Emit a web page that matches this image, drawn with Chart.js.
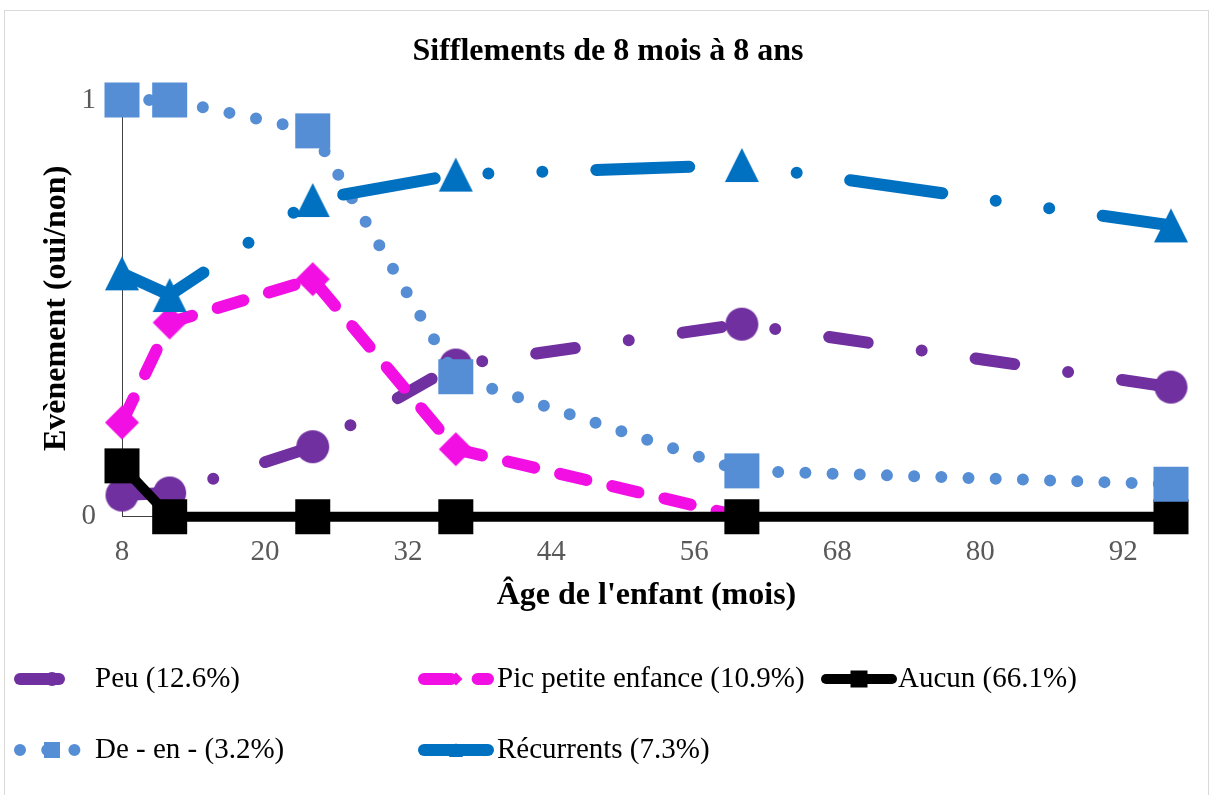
<!DOCTYPE html>
<html lang="fr">
<head>
<meta charset="utf-8">
<title>Sifflements de 8 mois à 8 ans</title>
<script src="https://cdn.jsdelivr.net/npm/chart.js@4.4.1/dist/chart.umd.min.js"></script>
<style>
  html, body { margin: 0; padding: 0; background: #fff; }
  canvas { display: block; }
</style>
</head>
<body>
<canvas id="chart" width="1211" height="795"></canvas>
<script>
// données (âge en mois, proportion oui/non)
const ages = [8, 12, 24, 36, 60, 96];
const peu = [0.052, 0.057, 0.168, 0.364, 0.462, 0.311];
const picPetiteEnfance = [0.226, 0.466, 0.570, 0.162, 0, null];
const aucun = [0.122, 0, 0, 0, 0, 0];
const deEnMoins = [1, 1, 0.926, 0.336, 0.110, 0.078];
const recurrents = [0.584, 0.532, 0.760, 0.821, 0.844, 0.699];

const seriesNames = ["Peu (12.6%)", "Pic petite enfance (10.9%)", "Aucun (66.1%)", "De - en - (3.2%)", "Récurrents (7.3%)"];
const xTicks = [8, 20, 32, 44, 56, 68, 80, 92];
const yTicks = [0, 1];

const chartTitle = "Sifflements de 8 mois à 8 ans";
const xTitle = "Âge de l'enfant (mois)";
const yTitle = "Evènement (oui/non)";

const SERIF = '"Liberation Serif", "Times New Roman", serif';

function toPoints(values) {
    return values.map((v, i) => ({ x: ages[i], y: v }));
}

// dessine un marqueur (aussi utilisé pour la légende)
function drawMarker(ctx, style, x, y, size, color) {
    const h = size / 2;
    ctx.fillStyle = color;
    ctx.beginPath();
    if (style === "circle") {
        ctx.arc(x, y, h, 0, Math.PI * 2);
    } else if (style === "rect") {
        ctx.rect(x - h, y - h, size, size);
    } else if (style === "rectRot") {
        ctx.moveTo(x, y - h); ctx.lineTo(x + h, y); ctx.lineTo(x, y + h); ctx.lineTo(x - h, y);
        ctx.closePath();
    } else if (style === "triangle") {
        ctx.moveTo(x, y - h); ctx.lineTo(x + h, y + h); ctx.lineTo(x - h, y + h);
        ctx.closePath();
    }
    ctx.fill();
}

function makeMarker(style, size, color) {
    const c = document.createElement("canvas");
    c.width = Math.ceil(size) + 2;
    c.height = Math.ceil(size) + 2;
    drawMarker(c.getContext("2d"), style, c.width / 2, c.height / 2, size, color);
    return c;
}

const styles = [
    { color: "#7030A0", width: 12, dash: [39, 54.5, 0, 54.5], marker: "circle", size: 33, legendSize: 14 },
    { color: "#F20FE3", width: 12, dash: [27, 26.6], marker: "rectRot", size: 34, legendSize: 13 },
    { color: "#000000", width: 10, dash: [], marker: "rect", size: 35, legendSize: 17 },
    { color: "#558ED5", width: 12, dash: [0, 27.2], marker: "rect", size: 35, legendSize: 16 },
    { color: "#0070C0", width: 12, dash: [93, 54, 0, 54, 0, 54], marker: "triangle", size: 34, legendSize: 14 }
];
const seriesValues = [peu, picPetiteEnfance, aucun, deEnMoins, recurrents];

const datasets = seriesValues.map((vals, i) => {
    const s = styles[i];
    return {
        label: seriesNames[i],
        data: toPoints(vals),
        borderColor: s.color,
        backgroundColor: s.color,
        borderWidth: s.width,
        borderDash: s.dash,
        borderCapStyle: "round",
        borderJoinStyle: "round",
        pointStyle: makeMarker(s.marker, s.size, s.color),
        pointRadius: s.size / 2,
        pointBorderWidth: 0,
        tension: 0,
        clip: false,
        order: seriesValues.length - i // la dernière série au-dessus, comme dans Excel
    };
});

// titre, cadre et légende
const decor = {
    id: "decor",
    beforeDraw(chart) {
        const ctx = chart.ctx;
        ctx.save();
        ctx.fillStyle = "#fff";
        ctx.fillRect(0, 0, chart.width, chart.height);
        ctx.strokeStyle = "#d9d9d9";
        ctx.lineWidth = 1;
        ctx.strokeRect(4.5, 10.5, 1204, 800);
        ctx.restore();
    },
    afterDraw(chart) {
        const ctx = chart.ctx;
        ctx.save();
        ctx.fillStyle = "#000";
        ctx.font = "bold 32px " + SERIF;
        ctx.textAlign = "center";
        ctx.textBaseline = "middle";
        ctx.fillText(chartTitle, 608, 52);

        const slots = [[14, 95, 679], [418, 497, 679], [821, 898, 679], [14, 95, 750], [418, 497, 750]];
        const sampleLen = 76;
        seriesNames.forEach((name, i) => {
            const s = styles[i];
            const [x0, tx, y] = slots[i];
            ctx.save();
            ctx.beginPath();
            ctx.rect(x0 - 1, y - 20, sampleLen + 2, 40);
            ctx.clip();
            ctx.strokeStyle = s.color;
            ctx.lineWidth = s.width;
            ctx.lineCap = "round";
            ctx.setLineDash(s.dash);
            ctx.beginPath();
            ctx.moveTo(x0 + s.width / 2, y);
            ctx.lineTo(x0 + sampleLen - s.width / 2, y);
            ctx.stroke();
            ctx.setLineDash([]);
            drawMarker(ctx, s.marker, x0 + sampleLen / 2, y, s.legendSize, s.color);
            ctx.restore();

            ctx.fillStyle = "#000";
            ctx.font = "29px " + SERIF;
            ctx.textAlign = "left";
            ctx.textBaseline = "middle";
            ctx.fillText(name, tx, y);
        });
        ctx.restore();
    }
};

new Chart(document.getElementById("chart"), {
    type: "line",
    data: { datasets: datasets },
    options: {
        responsive: false,
        animation: false,
        devicePixelRatio: 1,
        layout: { padding: { top: 100, left: 4, right: 40, bottom: 170 } },
        plugins: {
            legend: { display: false },
            title: { display: false },
            tooltip: { enabled: false }
        },
        scales: {
            x: {
                type: "linear",
                min: 8,
                max: 96,
                afterBuildTicks: s => { s.ticks = xTicks.map(v => ({ value: v })); },
                afterFit: s => { s.height = 108.3; },
                grid: { display: false, drawTicks: false },
                border: { display: true, color: "#404040", width: 1 },
                ticks: { color: "#595959", font: { family: SERIF, size: 29 }, padding: 18, maxRotation: 0, autoSkip: false },
                title: { display: true, text: xTitle, color: "#000", font: { family: SERIF, size: 32, weight: "bold" }, padding: { top: 0, bottom: 10 } }
            },
            y: {
                min: 0,
                max: 1,
                afterBuildTicks: s => { s.ticks = yTicks.map(v => ({ value: v })); },
                afterFit: s => { s.width = 118; },
                grid: { display: false, drawTicks: false },
                border: { display: true, color: "#404040", width: 1 },
                ticks: { color: "#595959", font: { family: SERIF, size: 29 }, padding: 26 },
                title: { display: true, text: yTitle, color: "#000", font: { family: SERIF, size: 32, weight: "bold" }, padding: { top: 34, bottom: 0 } }
            }
        }
    },
    plugins: [decor]
});
</script>
</body>
</html>
